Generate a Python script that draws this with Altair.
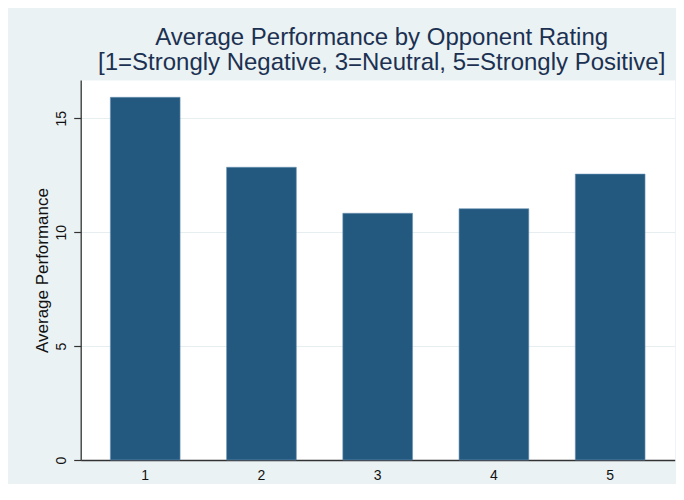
import altair as alt
import pandas as pd

ratings = ["1", "2", "3", "4", "5"]
performance = [15.92, 12.85, 10.83, 11.03, 12.55]
y_ticks = [0, 5, 10, 15]
title_lines = [
    "Average Performance by Opponent Rating",
    "[1=Strongly Negative, 3=Neutral, 5=Strongly Positive]",
]

df = pd.DataFrame({"rating": ratings, "perf": performance})

FONT = "Liberation Sans"

chart = (
    alt.Chart(df)
    .mark_bar(color="#23587f", stroke="#6b93b3", strokeWidth=0.6)
    .encode(
        x=alt.X(
            "rating:O",
            title=None,
            sort=ratings,
            scale=alt.Scale(paddingInner=0.4, paddingOuter=0.255),
            axis=alt.Axis(
                labelAngle=0,
                ticks=False,
                labelPadding=9,
                labelFontSize=14,
                labelFont=FONT,
                labelColor="#111111",
                domainColor="#333333",
                domainWidth=1.3,
                grid=False,
            ),
        ),
        y=alt.Y(
            "perf:Q",
            title="Average Performance",
            scale=alt.Scale(domain=[0, 16.68], nice=False, zero=True),
            axis=alt.Axis(
                values=y_ticks,
                labelAngle=270,
                labelFontSize=14,
                labelFont=FONT,
                labelColor="#111111",
                labelPadding=5,
                tickSize=7,
                tickColor="#333333",
                tickWidth=1.2,
                domainColor="#333333",
                domainWidth=1.3,
                grid=True,
                gridColor="#e6eef0",
                gridWidth=1,
                titleFont=FONT,
                titleFontSize=17,
                titleFontWeight="normal",
                titleColor="#111111",
                titlePadding=3,
            ),
        ),
    )
    .properties(
        width=594,
        height=380,
        title=alt.TitleParams(
            text=title_lines,
            font=FONT,
            fontSize=24,
            fontWeight="normal",
            color="#1c3152",
            lineHeight=25,
            anchor="middle",
            frame="group",
            baseline="bottom",
            offset=2,
            dy=21,
            dx=4,
        ),
        autosize=alt.AutoSizeParams(type="none"),
        padding={"left": 72.7, "top": 72, "right": 1, "bottom": 24},
        background="#eaf2f3",
    )
    .configure_view(fill="white", stroke="transparent")
)

chart.save("out.html", embed_options={"renderer": "svg", "actions": False})
